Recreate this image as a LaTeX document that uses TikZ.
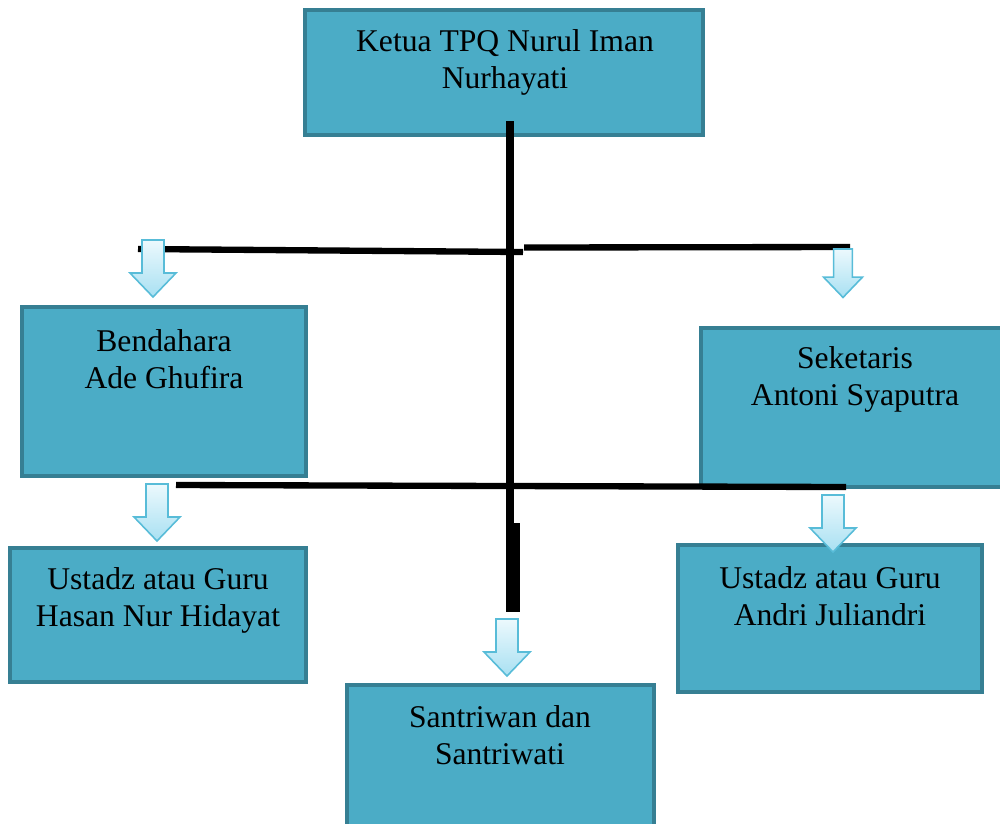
\documentclass[tikz,border=0pt]{standalone}
\usepackage{fontspec}
\setmainfont{Liberation Serif}
\definecolor{boxfill}{RGB}{75,172,198}
\definecolor{boxline}{RGB}{54,127,147}
\definecolor{arrline}{RGB}{88,188,216}
\definecolor{arrtop}{RGB}{236,249,253}
\definecolor{arrbot}{RGB}{168,224,242}
\tikzset{
  orgbox/.style={draw=boxline, fill=boxfill, line width=2.3pt, rectangle, inner sep=0pt},
  orgtxt/.style={align=center, font=\fontsize{18}{21}\selectfont, inner sep=0pt},
  bar/.style={line width=3.6pt, black},
  blockarrow/.style={draw=arrline, line width=0.9pt, top color=arrtop, bottom color=arrbot, line join=miter},
  pics/downarr/.style={code={
    \path[blockarrow] (-11,0) -- (11,0) -- (11,33) -- (23,33) -- (0,57) -- (-23,33) -- (-11,33) -- cycle;
  }}
}
\begin{document}
\begin{tikzpicture}[x=0.02cm, y=-0.02cm]
\useasboundingbox (0,0) rectangle (1000,823);
\clip (0,0) rectangle (1000,823);
% boxes
\node[orgbox, minimum width=7.96cm, minimum height=2.5cm] (ketua) at (504,72.5) {};
\node[orgbox, minimum width=5.68cm, minimum height=3.38cm] (bend) at (164,391.5) {};
\node[orgbox, minimum width=6.04cm, minimum height=3.18cm] (sek) at (852,407.5) {};
\node[orgbox, minimum width=5.92cm, minimum height=2.68cm] (ustl) at (158,615) {};
\node[orgbox, minimum width=6.08cm, minimum height=2.94cm] (ustr) at (830,618.5) {};
\node[orgbox, minimum width=6.14cm, minimum height=2.9cm] (santri) at (500.5,757.5) {};
% texts
\node[orgtxt] (ketuat) at (505,62) {Ketua TPQ Nurul Iman\\Nurhayati};
\node[orgtxt] (bendt) at (164,359) {Bendahara\\Ade Ghufira};
\node[orgtxt] (sekt) at (855,379) {Seketaris\\Antoni Syaputra};
\node[orgtxt] (ustlt) at (158,600) {Ustadz atau Guru\\Hasan Nur Hidayat};
\node[orgtxt] (ustrt) at (830,596) {Ustadz atau Guru\\Andri Juliandri};
\node[orgtxt] (santrit) at (500,735) {Santriwan dan\\Santriwati};
% connector coordinates
\coordinate (vtop) at (510,121);
\coordinate (vbot) at (510,612);
\coordinate (vthick) at (514,523);
\coordinate (vthickb) at (514,612);
\coordinate (ul) at (138,249);
\coordinate (uc) at (523,252);
\coordinate (ucr) at (524,247.5);
\coordinate (ur) at (850,247);
\coordinate (ll) at (176,485);
\coordinate (lr) at (846,487);
% lines
\draw[bar, line width=4.4pt] (vtop) -- (vbot);
\draw[bar, line width=6.5pt] (vthick) -- (vthickb);
\draw[bar] (ul) -- (uc);
\draw[bar] (ucr) -- (ur);
\draw[bar] (ll) -- (lr);
% arrows
\pic at (153,240) {downarr};
\pic[scale=0.85] at (843,249) {downarr};
\pic at (157,484) {downarr};
\pic at (833,495) {downarr};
\pic at (507,619) {downarr};
\end{tikzpicture}
\end{document}
